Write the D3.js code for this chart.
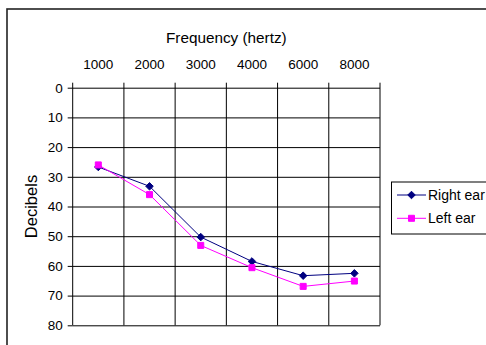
<!DOCTYPE html>
<html>
<head>
<meta charset="utf-8">
<script src="https://cdn.jsdelivr.net/npm/d3@7"></script>
<style>
  body { margin: 0; background: #fff; }
  svg { display: block; font-family: "Liberation Sans", Arial, sans-serif; }
</style>
</head>
<body>
<div id="root"></div>
<script>
// audiogram values
const frequencies = ["1000", "2000", "3000", "4000", "6000", "8000"];
const rightEar = [26.7, 33.2, 50.3, 58.5, 63.3, 62.5];
const leftEar = [26.0, 36.0, 53.1, 60.6, 66.9, 65.1];
const decibelTicks = [0, 10, 20, 30, 40, 50, 60, 70, 80];

const series = [
  { name: "Right ear", values: rightEar, color: "#000080", shape: d3.symbolDiamond2, size: 36 },
  { name: "Left ear", values: leftEar, color: "#ff00ff", shape: d3.symbolSquare2, size: 46 }
];

const svg = d3.select("#root").append("svg").attr("width", 486).attr("height", 345);
const plot = { left: 72.7, right: 380, top: 87.7, bottom: 325.3 };

// outer chart frame (cut at right and bottom like the reference)
svg.append("rect")
  .attr("x", 7).attr("y", 9)
  .attr("width", 500).attr("height", 360)
  .attr("fill", "none").attr("stroke", "#222").attr("stroke-width", 1.6);

const x = d3.scaleBand().domain(frequencies).range([plot.left, plot.right]).padding(0);
const y = d3.scaleLinear().domain([0, 80]).range([plot.top, plot.bottom]);
const cx = (d) => x(d) + x.bandwidth() / 2;

// horizontal grid + left ticks
svg.append("g")
  .attr("transform", `translate(${plot.left},0)`)
  .call(d3.axisLeft(y).tickValues(decibelTicks).tickSize(5).tickPadding(5))
  .call((g) => g.select(".domain").remove())
  .call((g) => g.selectAll("text").attr("font-size", 13.5).attr("fill", "#000").attr("font-family", null))
  .call((g) => g.selectAll(".tick line").attr("stroke", "#000"))
  .call((g) => g.selectAll(".tick").append("line")
    .attr("x1", 0).attr("x2", plot.right - plot.left)
    .attr("stroke", "#000"));

// vertical grid (band edges), extending above the top line
const edges = frequencies.map((f) => x(f)).concat([plot.right]);
svg.append("g").selectAll("line")
  .data(edges)
  .join("line")
  .attr("x1", (d) => d).attr("x2", (d) => d)
  .attr("y1", plot.top - 5).attr("y2", plot.bottom)
  .attr("stroke", "#000");

// top axis labels at band centres
svg.append("g")
  .attr("transform", `translate(0,${plot.top})`)
  .call(d3.axisTop(x).tickSize(0).tickPadding(18.7))
  .call((g) => g.select(".domain").remove())
  .call((g) => g.selectAll("text").attr("font-size", 13.5).attr("fill", "#000").attr("font-family", null));

svg.append("text")
  .attr("x", (plot.left + plot.right) / 2).attr("y", 43.3)
  .attr("text-anchor", "middle").attr("font-size", 15.3)
  .text("Frequency (hertz)");

svg.append("text")
  .attr("transform", `translate(36.5,${(plot.top + plot.bottom) / 2}) rotate(-90)`)
  .attr("text-anchor", "middle").attr("font-size", 16.5)
  .text("Decibels");

const line = d3.line().x((d, i) => cx(frequencies[i])).y((d) => y(d));

series.forEach((s) => {
  svg.append("path")
    .datum(s.values)
    .attr("d", line)
    .attr("fill", "none")
    .attr("stroke", s.color)
    .attr("stroke-width", 1);
  svg.append("g").selectAll("path")
    .data(s.values)
    .join("path")
    .attr("transform", (d, i) => `translate(${cx(frequencies[i])},${y(d)})`)
    .attr("d", d3.symbol(s.shape, s.size))
    .attr("fill", s.color)
    .attr("stroke", s.color)
    .attr("stroke-width", 1);
});

// legend
const legend = svg.append("g");
legend.append("rect")
  .attr("x", 391.5).attr("y", 182)
  .attr("width", 120).attr("height", 52)
  .attr("fill", "#fff").attr("stroke", "#000").attr("stroke-width", 1);
const rowY = [195, 218.3];
series.forEach((s, i) => {
  legend.append("line")
    .attr("x1", 397).attr("x2", 426)
    .attr("y1", rowY[i]).attr("y2", rowY[i])
    .attr("stroke", s.color);
  legend.append("path")
    .attr("transform", `translate(411.5,${rowY[i]})`)
    .attr("d", d3.symbol(s.shape, s.size))
    .attr("fill", s.color).attr("stroke", s.color);
  legend.append("text")
    .attr("x", 428).attr("y", rowY[i]).attr("dy", "0.36em")
    .attr("font-size", 14)
    .text(s.name);
});
</script>
</body>
</html>
